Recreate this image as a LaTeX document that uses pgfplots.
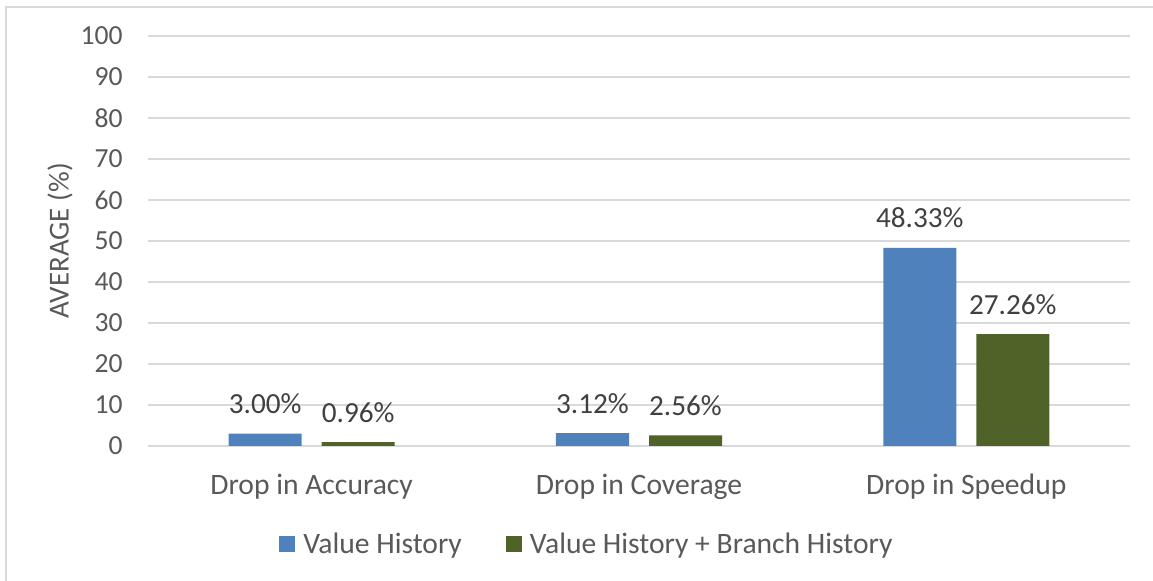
\documentclass[border=0pt]{standalone}
\usepackage{pgfplots}
\pgfplotsset{compat=1.18}
\usepackage{fontspec}
\setmainfont{Carlito}
\definecolor{vblue}{HTML}{4F81BD}
\definecolor{vgreen}{HTML}{4F6228}
\definecolor{gridgray}{HTML}{D9D9D9}
\definecolor{txtgray}{HTML}{595959}
\definecolor{lblgray}{HTML}{404040}
\begin{document}
\begin{tikzpicture}
\path[use as bounding box] (0,0) rectangle (576.5pt,290.5pt);
\draw[gridgray, line width=0.8pt] (3pt,0) -- (3pt,287pt) -- (576.5pt,287pt);
\begin{axis}[
  at={(74pt,67.5pt)}, anchor=south west,
  scale only axis, width=491pt, height=205pt,
  /pgf/number format/assume math mode=true,
  ybar=10pt, bar width=36.5pt,
  xmin=-0.5, xmax=2.5, ymin=0, ymax=100,
  xtick={0,1,2},
  xticklabels={Drop in Accuracy, Drop in Coverage, Drop in Speedup},
  ytick={0,10,...,100},
  axis line style={draw=none},
  major tick length=0pt,
  ymajorgrids, grid style={gridgray, line width=0.8pt},
  xticklabel style={font=\fontsize{14.8}{17}\selectfont, text=txtgray, anchor=base, yshift=-24.5pt},
  yticklabel style={font=\fontsize{13.8}{16}\selectfont, text=txtgray, anchor=east, inner sep=0pt, xshift=-12.5pt},
  ylabel={AVERAGE (\%)},
  every axis y label/.style={at={(axis description cs:0,0.5)}, anchor=center, xshift=-44pt, rotate=90, font=\fontsize{14.5}{17}\selectfont, text=txtgray},
  nodes near coords={\pgfmathprintnumber[fixed,fixed zerofill,precision=2]{\pgfplotspointmeta}\%},
  every node near coord/.append style={font=\fontsize{14.6}{17}\selectfont, text=lblgray, anchor=base, yshift=10pt, inner sep=0pt},
  legend columns=2,
  legend style={at={(axis description cs:0.448,-0.2415)}, anchor=center, draw=none, fill=none,
    font=\fontsize{14.8}{17}\selectfont, text=txtgray,
    /tikz/every even column/.append style={column sep=20pt},
    /tikz/every odd column/.append style={column sep=2pt}},
  legend image code/.code={\fill[#1] (0pt,-3.6pt) rectangle (8pt,4.4pt);},
]
\addplot[fill=vblue, draw=none] coordinates {(0,3.00) (1,3.12) (2,48.33)};
\addplot[fill=vgreen, draw=none] coordinates {(0,0.96) (1,2.56) (2,27.26)};
\legend{Value History, Value History + Branch History}
\end{axis}
\end{tikzpicture}
\end{document}
